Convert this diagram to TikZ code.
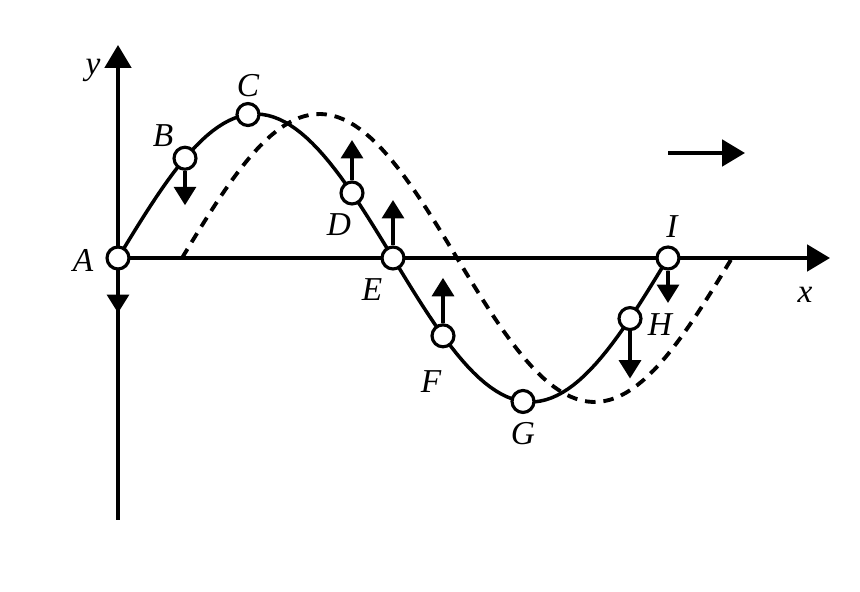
\documentclass[tikz,border=0pt]{standalone}
\usepackage{fontspec}
\setmainfont{Liberation Serif}
\usetikzlibrary{arrows.meta,calc}
\tikzset{
  pt/.style={circle, draw, fill=white, line width=1.8pt, minimum size=12.5pt, inner sep=0pt},
  lbl/.style={font=\fontsize{19}{22}\selectfont\itshape, inner sep=0pt},
  vel/.style={line width=2pt, -{Triangle[length=10.5pt,width=12.5pt]}},
  axis/.style={line width=2pt, -{Triangle[length=13pt,width=15pt]}}
}
\begin{document}
\begin{tikzpicture}[x=2cm,y=2cm]
\useasboundingbox (-1.18,-3.34) rectangle (7.42,2.58);
\pgfmathsetmacro{\amp}{1.44}
\pgfmathsetmacro{\lam}{5.5}
\pgfmathsetmacro{\sh}{0.64}
% axes
\coordinate (yb) at (0,-2.62);
\coordinate (yt) at (0,2.13);
\coordinate (O) at (0,0);
\coordinate (xe) at (7.12,0);
\draw[axis] (yb) -- (yt);
\draw[axis] (O) -- (xe);
\node[lbl] (ly) at (-0.25,1.88) {y};
\node[lbl] (lx) at (6.87,-0.37) {x};
% waves
\draw[line width=2.2pt, dash pattern=on 6pt off 4.5pt, domain=\sh:\sh+\lam, samples=100] plot (\x,{\amp*sin(360*(\x-\sh)/\lam)});
\draw[line width=2pt, domain=0:\lam, samples=100] plot (\x,{\amp*sin(360*\x/\lam)});
% particles
\node[pt] (A) at (0,0) {};
\node[pt] (B) at (0.67,{\amp*sin(360*0.67/\lam)}) {};
\node[pt] (C) at (1.30,{\amp*sin(360*1.30/\lam)}) {};
\node[pt] (D) at (2.34,{\amp*sin(360*2.34/\lam)}) {};
\node[pt] (E) at (2.75,0) {};
\node[pt] (F) at (3.25,{\amp*sin(360*3.25/\lam)}) {};
\node[pt] (G) at (4.05,{\amp*sin(360*4.05/\lam)}) {};
\node[pt] (H) at (5.12,{\amp*sin(360*5.12/\lam)}) {};
\node[pt] (I) at (5.5,0) {};
% velocities
\coordinate (Aa) at ($(A)+(0,-0.55)$);
\coordinate (Ba) at ($(B)+(0,-0.47)$);
\coordinate (Da) at ($(D)+(0,0.53)$);
\coordinate (Ea) at ($(E)+(0,0.58)$);
\coordinate (Fa) at ($(F)+(0,0.58)$);
\coordinate (Ha) at ($(H)+(0,-0.6)$);
\coordinate (Ia) at ($(I)+(0,-0.45)$);
\foreach \p in {A,B,D,E,F,H,I}
  \draw[vel] (\p) -- (\p a);
% direction of travel
\coordinate (w1) at (5.5,1.05);
\coordinate (w2) at (6.27,1.05);
\draw[axis] (w1) -- (w2);
% labels
\node[lbl] (lA) at ($(A)+(-0.35,-0.02)$) {A};
\node[lbl] (lB) at ($(B)+(-0.22,0.23)$) {B};
\node[lbl] (lC) at ($(C)+(0,0.29)$) {C};
\node[lbl] (lD) at ($(D)+(-0.13,-0.32)$) {D};
\node[lbl] (lE) at ($(E)+(-0.21,-0.32)$) {E};
\node[lbl] (lF) at ($(F)+(-0.12,-0.46)$) {F};
\node[lbl] (lG) at ($(G)+(0,-0.32)$) {G};
\node[lbl] (lH) at ($(H)+(0.3,-0.06)$) {H};
\node[lbl] (lI) at ($(I)+(0.04,0.31)$) {I};
\end{tikzpicture}
\end{document}
